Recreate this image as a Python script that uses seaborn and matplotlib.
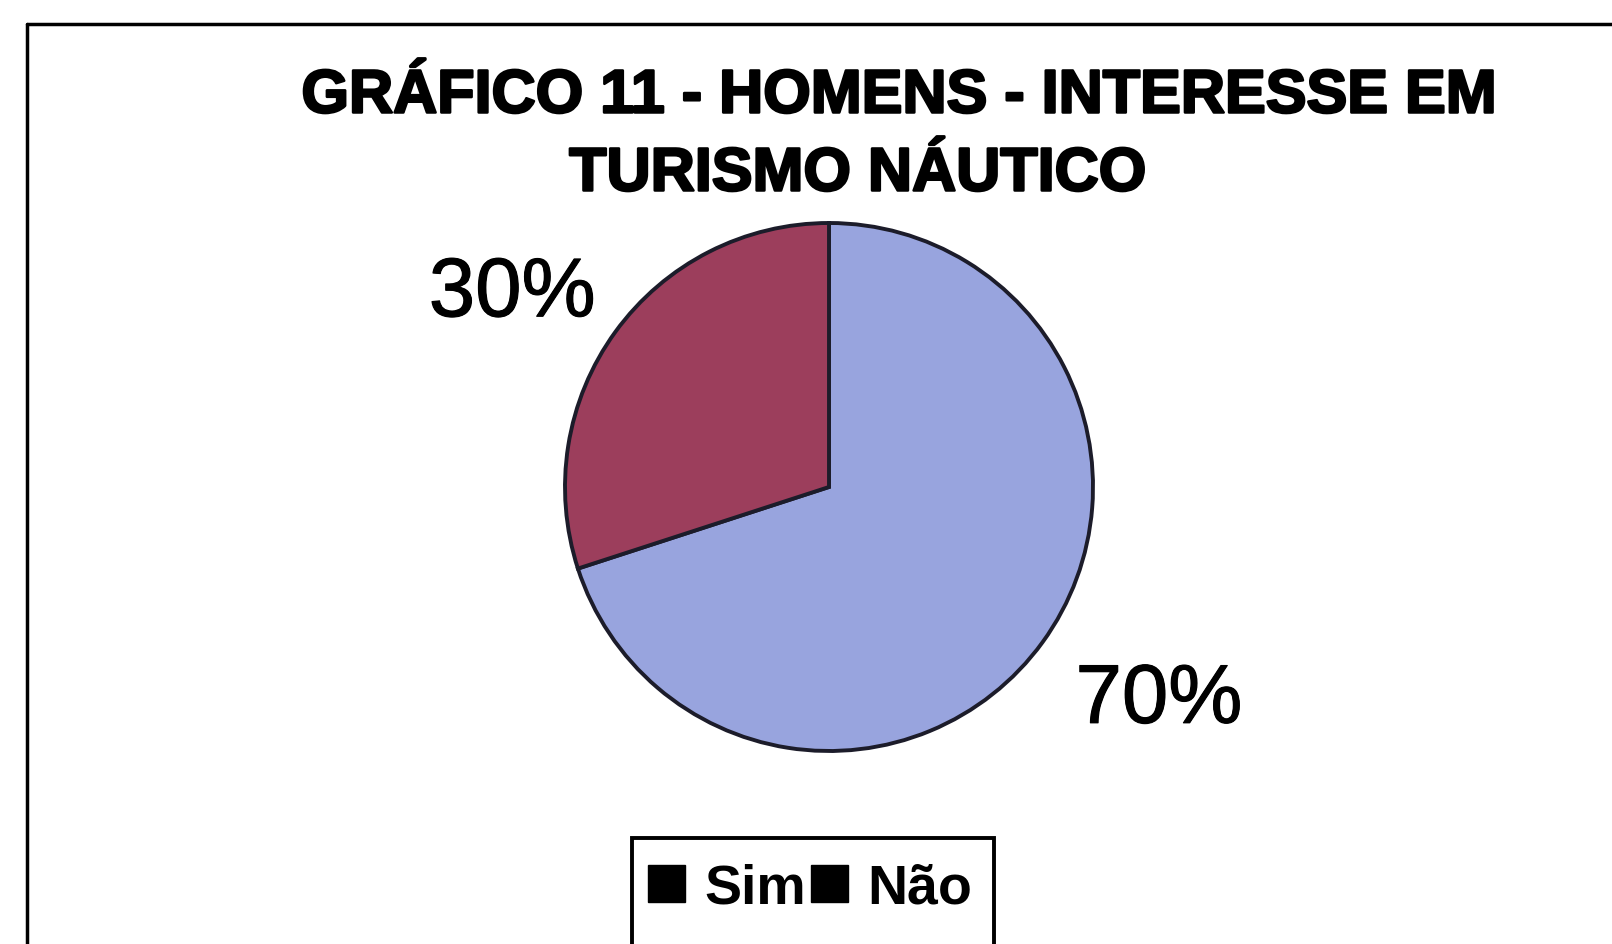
import matplotlib.pyplot as plt
import matplotlib.lines as mlines
import matplotlib.patches as mpatches
import matplotlib.patheffects as pe
import seaborn as sns

sns.set_style('white')
plt.rcParams['font.family'] = ['Liberation Sans', 'DejaVu Sans']
plt.rcParams['text.color'] = 'black'

# data
categories = ['Sim', 'Não']
values = [70, 30]
colors = ['#98A4DE', '#9C3E5C']
title_lines = ['GRÁFICO 11 - HOMENS - INTERESSE EM', 'TURISMO NÁUTICO']
# label spots in pie-radius units (Excel places them a bit off the mid-angle)
label_pos = [(1.25, -0.81), (-1.20, 0.73)]

W, H = 1612, 944
fig = plt.figure(figsize=(W / 100, H / 100), dpi=100)
fig.patch.set_facecolor('white')

# outer frame (top and left edges visible in the scan)
fig.add_artist(mlines.Line2D([27 / W, 27 / W], [0, 1 - 24 / H], color='black', lw=2.5))
fig.add_artist(mlines.Line2D([27 / W, 1], [1 - 24 / H, 1 - 24 / H], color='black', lw=2.5))

# pie axes: center (829, 487) px, radius 264 px
cx, cy, r = 829, 487, 264
ax = fig.add_axes([(cx - r) / W, (H - cy - r) / H, 2 * r / W, 2 * r / H])
wedges, texts, autotexts = ax.pie(
    values, colors=colors, startangle=90, counterclock=False,
    autopct='%.0f%%', pctdistance=1.45,
    wedgeprops=dict(edgecolor='#1c1c2a', linewidth=2.8),
    textprops=dict(fontsize=60, color='black'))
ax.set_xlim(-1, 1)
ax.set_ylim(-1, 1)
ax.set_aspect('equal')
ax.axis('off')
for t, p in zip(autotexts, label_pos):
    t.set_position(p)
    t.set_clip_on(False)
    t.set_path_effects([pe.withStroke(linewidth=0.8, foreground='black')])

# title
stroke = [pe.withStroke(linewidth=1.8, foreground='black')]
fig.text(900 / W, 1 - 97 / H, title_lines[0], ha='center', va='center',
         fontsize=44, fontweight='bold', path_effects=stroke)
fig.text(858 / W, 1 - 175 / H, title_lines[1], ha='center', va='center',
         fontsize=44, fontweight='bold', path_effects=stroke)

# legend box runs past the bottom edge of the scan
fig.add_artist(mpatches.Rectangle((632 / W, -0.05), (994 - 632) / W, (944 - 838) / H + 0.05,
                                  transform=fig.transFigure, facecolor='none',
                                  edgecolor='black', lw=2.8))

# legend with black square markers
handles = [mpatches.Patch(facecolor='black', edgecolor='black') for _ in categories]
leg = fig.legend(handles, categories, loc='center left',
                 bbox_to_anchor=(648 / W, 1 - 889 / H), borderaxespad=0,
                 ncol=2, frameon=False, prop=dict(size=40, weight='bold'),
                 handlelength=0.66, handleheight=0.66, handletextpad=0.35,
                 columnspacing=0.1, borderpad=0)
for t in leg.get_texts():
    t.set_color('black')

fig.savefig('out.png', dpi=100, facecolor='white')
